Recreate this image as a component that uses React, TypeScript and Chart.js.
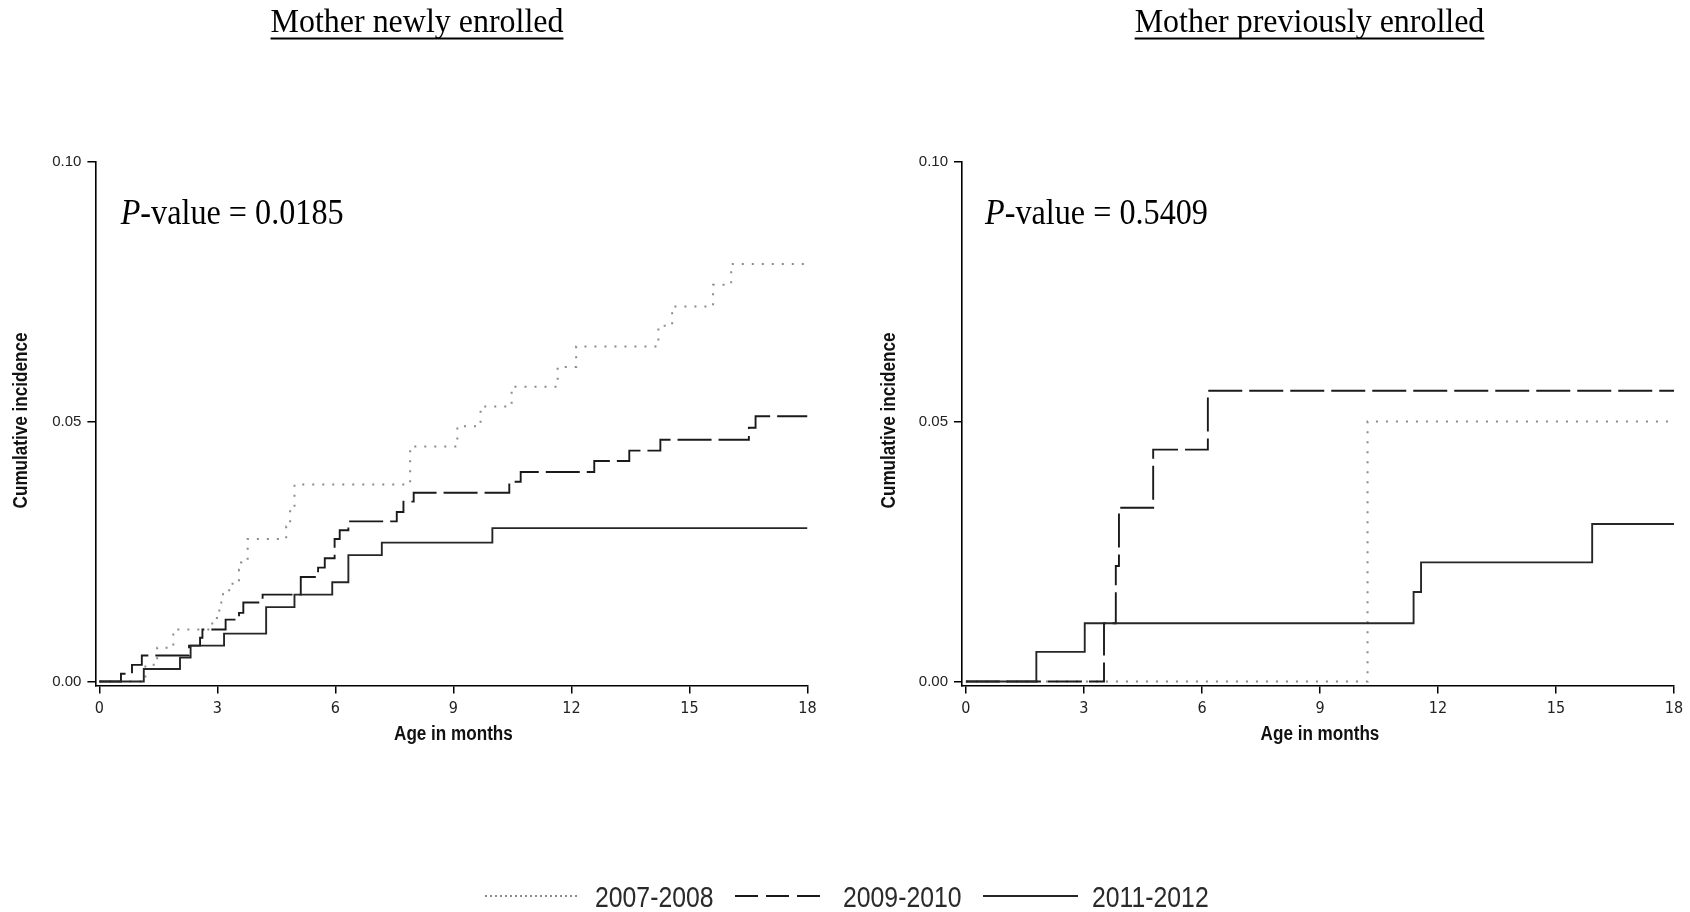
import React, { useEffect, useRef } from "react";
import { Chart, registerables } from "chart.js";

Chart.register(...registerables);

// ---------------- data ----------------
const PANEL_TITLES = ["Mother newly enrolled", "Mother previously enrolled"];
const P_VALUES = ["0.0185", "0.5409"];
const SERIES_LABELS = ["2007-2008", "2009-2010", "2011-2012"];
const X_TICKS = [0, 3, 6, 9, 12, 15, 18];
const Y_TICKS = [0, 0.05, 0.1];
const X_TITLE = "Age in months";
const Y_TITLE = "Cumulative incidence";

// Panel 1: Mother newly enrolled
const newly0708Months = [0, 1.17, 1.47, 1.88, 2.87, 3.05, 3.1, 3.3, 3.55, 3.6, 3.77, 4.75, 4.85, 4.96, 7.9, 9.1, 9.69, 10.48, 11.65, 12.12, 14.21, 14.56, 15.6, 16.06, 18];
const newly0708Values = [0, 0.0032, 0.0065, 0.01, 0.0122, 0.0145, 0.0168, 0.0188, 0.0215, 0.0229, 0.0274, 0.0298, 0.0338, 0.0379, 0.0452, 0.0491, 0.0529, 0.0567, 0.0605, 0.0644, 0.0684, 0.0721, 0.0763, 0.0803, 0.0803];

const newly0910Months = [0, 0.55, 0.83, 1.08, 2.28, 2.56, 2.62, 3.21, 3.55, 3.66, 4.15, 5.12, 5.56, 5.73, 5.98, 6.11, 6.33, 7.56, 7.73, 7.99, 10.42, 10.71, 12.58, 13.47, 14.26, 16.51, 16.68, 18];
const newly0910Values = [0, 0.0015, 0.0032, 0.005, 0.0069, 0.0084, 0.01, 0.0119, 0.0132, 0.0152, 0.0167, 0.0201, 0.0219, 0.0237, 0.0274, 0.0291, 0.0308, 0.0326, 0.0346, 0.0363, 0.0384, 0.0403, 0.0424, 0.0444, 0.0465, 0.0488, 0.051, 0.051];

const newly1112Months = [0, 1.13, 2.05, 2.32, 3.17, 4.24, 4.96, 5.92, 6.33, 7.18, 9.99, 18];
const newly1112Values = [0, 0.0024, 0.0046, 0.0069, 0.0092, 0.0143, 0.0167, 0.0191, 0.0243, 0.0267, 0.0295, 0.0295];

// Panel 2: Mother previously enrolled
const prev0708Months = [0, 10.21, 18];
const prev0708Values = [0, 0.05, 0.05];

const prev0910Months = [0, 3.51, 3.81, 3.89, 4.76, 6.15, 18];
const prev0910Values = [0, 0.0112, 0.0222, 0.0334, 0.0446, 0.0559, 0.0559];

const prev1112Months = [0, 1.79, 3.02, 11.38, 11.57, 15.92, 18];
const prev1112Values = [0, 0.0057, 0.0112, 0.0172, 0.0229, 0.0303, 0.0303];

const PANEL_SERIES = [
  [
    [newly0708Months, newly0708Values],
    [newly0910Months, newly0910Values],
    [newly1112Months, newly1112Values],
  ],
  [
    [prev0708Months, prev0708Values],
    [prev0910Months, prev0910Values],
    [prev1112Months, prev1112Values],
  ],
];

// ---------------- styles / layout ----------------
const SERIES_STYLE = [
  { color: "#8a8a8a", dash: [2, 8], width: 2, legendDash: [2, 3], order: 3 },
  { color: "#1a1a1a", dash: [34, 7], width: 1.9, legendDash: [23, 8], order: 2 },
  { color: "#262626", dash: [] as number[], width: 1.9, legendDash: [] as number[], order: 1 },
];

const CONDENSED = "'DejaVu Sans Condensed', 'Liberation Sans Narrow', sans-serif";
const SANS = "'Liberation Sans', Arial, sans-serif";
const SERIF = "'Liberation Serif', 'Times New Roman', serif";
const NARROW_SQUEEZE = 0.855;

const CANVAS_W = 845;
const CANVAS_H = 912;
const PLOT_TOP = 161.5;
const PLOT_BOTTOM = 685.5;
const Y_AXIS_W = 90;
const X_AXIS_H = 61;

const PANEL_GEOM = [
  { left: 95.4, right: 807.5, titleX: 417, pX: 120.7, yTitleX: 21.5 },
  { left: 117, right: 829, titleX: 464.5, pX: 140, yTitleX: 44 },
];

function squeezedText(ctx: CanvasRenderingContext2D, text: string, cx: number, cy: number, squeeze: number, rotate = 0) {
  ctx.save();
  ctx.translate(cx, cy);
  if (rotate) ctx.rotate(rotate);
  ctx.scale(squeeze, 1);
  ctx.textAlign = "center";
  ctx.textBaseline = "middle";
  ctx.fillText(text, 0, 0);
  ctx.restore();
}

const panelTextPlugin = {
  id: "panelText",
  afterDraw(chart: any, _args: any, opts: any) {
    const ctx = chart.ctx as CanvasRenderingContext2D;
    const area = chart.chartArea;
    ctx.save();
    ctx.fillStyle = "#000";
    ctx.textBaseline = "alphabetic";
    ctx.textAlign = "left";
    // panel title with underline
    const tSqueeze = 0.94;
    ctx.font = `34px ${SERIF}`;
    const tw = ctx.measureText(opts.title).width * tSqueeze;
    const tx = opts.titleX - tw / 2;
    ctx.save();
    ctx.translate(tx, 32);
    ctx.scale(tSqueeze, 1);
    ctx.fillText(opts.title, 0, 0);
    ctx.restore();
    ctx.fillRect(tx, 37.5, tw, 2);
    // p-value
    const pSqueeze = 0.92;
    ctx.save();
    ctx.translate(opts.pX, 224);
    ctx.scale(pSqueeze, 1);
    ctx.font = `italic 35px ${SERIF}`;
    ctx.fillText("P", 0, 0);
    const pw = ctx.measureText("P").width;
    ctx.font = `35px ${SERIF}`;
    ctx.fillText(`-value = ${opts.p}`, pw, 0);
    ctx.restore();
    // axis titles
    ctx.fillStyle = "#111";
    ctx.font = `bold 20px ${SANS}`;
    const xs = chart.scales.x;
    const xMid = (xs.getPixelForValue(X_TICKS[0]) + xs.getPixelForValue(X_TICKS[X_TICKS.length - 1])) / 2;
    squeezedText(ctx, opts.xTitle, xMid, 734, NARROW_SQUEEZE);
    squeezedText(ctx, opts.yTitle, opts.yTitleX, (area.top + area.bottom) / 2 - 3, NARROW_SQUEEZE, -Math.PI / 2);
    ctx.restore();
  },
};

function buildConfig(panel: number): any {
  const g = PANEL_GEOM[panel];
  const datasets = PANEL_SERIES[panel].map(([months, values], i) => ({
    label: SERIES_LABELS[i],
    data: months.map((m, k) => ({ x: m, y: values[k] })),
    stepped: "before",
    borderColor: SERIES_STYLE[i].color,
    borderWidth: SERIES_STYLE[i].width,
    borderDash: SERIES_STYLE[i].dash,
    borderCapStyle: "butt",
    borderJoinStyle: "miter",
    pointRadius: 0,
    fill: false,
    tension: 0,
    order: SERIES_STYLE[i].order,
  }));
  const axisGrid = {
    display: true,
    drawOnChartArea: false,
    drawTicks: true,
    tickLength: 8,
    color: "#000",
    lineWidth: 1.5,
  };
  const axisBorder = { display: true, color: "#000", width: 1.6 };
  return {
    type: "line",
    data: { datasets },
    options: {
      animation: false,
      responsive: false,
      devicePixelRatio: 1,
      events: [],
      parsing: false,
      layout: {
        padding: {
          left: g.left - Y_AXIS_W,
          right: CANVAS_W - g.right,
          top: PLOT_TOP,
          bottom: CANVAS_H - PLOT_BOTTOM - X_AXIS_H,
        },
      },
      plugins: {
        legend: { display: false },
        tooltip: { enabled: false },
        title: { display: false },
        panelText: {
          title: PANEL_TITLES[panel],
          p: P_VALUES[panel],
          titleX: g.titleX,
          pX: g.pX,
          yTitleX: g.yTitleX,
          xTitle: X_TITLE,
          yTitle: Y_TITLE,
        },
      },
      scales: {
        x: {
          type: "linear",
          min: -0.1,
          max: 18,
          afterBuildTicks: (s: any) => {
            s.ticks = X_TICKS.map((v) => ({ value: v }));
          },
          afterFit: (s: any) => {
            s.height = X_AXIS_H;
          },
          ticks: {
            autoSkip: false,
            maxRotation: 0,
            padding: 6,
            color: "#222",
            font: { family: CONDENSED, size: 16 },
            callback: (v: number) => String(v),
          },
          grid: axisGrid,
          border: axisBorder,
          title: { display: false },
        },
        y: {
          type: "linear",
          min: -0.00077,
          max: 0.1,
          afterBuildTicks: (s: any) => {
            s.ticks = Y_TICKS.map((v) => ({ value: v }));
          },
          afterFit: (s: any) => {
            s.width = Y_AXIS_W;
          },
          ticks: {
            padding: 6,
            color: "#222",
            font: { family: SANS, size: 15 },
            callback: (v: number) => Number(v).toFixed(2),
          },
          grid: axisGrid,
          border: axisBorder,
          title: { display: false },
        },
      },
    },
    plugins: [panelTextPlugin],
  };
}

function Panel({ index }: { index: number }) {
  const ref = useRef<HTMLCanvasElement | null>(null);
  useEffect(() => {
    if (!ref.current) return;
    const chart = new Chart(ref.current, buildConfig(index));
    return () => chart.destroy();
  }, [index]);
  return (
    <canvas
      ref={ref}
      width={CANVAS_W}
      height={CANVAS_H}
      style={{ position: "absolute", left: index * CANVAS_W, top: 0, width: CANVAS_W, height: CANVAS_H }}
    />
  );
}

// legend geometry (page px)
const LEGEND_SAMPLE_X = [[485, 579], [735, 824], [983, 1078]];
const LEGEND_TEXT_X = [595, 843, 1092];
const LEGEND_Y = 896;

function Legend() {
  return (
    <svg
      width={1690}
      height={60}
      style={{ position: "absolute", left: 0, top: LEGEND_Y - 30 }}
    >
      {SERIES_LABELS.map((label, i) => {
        const s = SERIES_STYLE[i];
        const [x1, x2] = LEGEND_SAMPLE_X[i];
        return (
          <g key={label}>
            <line
              x1={x1}
              y1={30}
              x2={x2}
              y2={30}
              stroke={s.color}
              strokeWidth={2}
              strokeDasharray={s.legendDash.length ? s.legendDash.join(" ") : undefined}
            />
            <text
              transform={`translate(${LEGEND_TEXT_X[i]},40.5) scale(${NARROW_SQUEEZE},1)`}
              fontFamily={SANS}
              fontSize={29}
              fill="#2a2a2a"
            >
              {label}
            </text>
          </g>
        );
      })}
    </svg>
  );
}

export default function App() {
  return (
    <div
      style={{
        position: "fixed",
        left: 0,
        top: 0,
        width: 1690,
        height: 912,
        background: "#fff",
        overflow: "hidden",
      }}
    >
      <Panel index={0} />
      <Panel index={1} />
      <Legend />
    </div>
  );
}
